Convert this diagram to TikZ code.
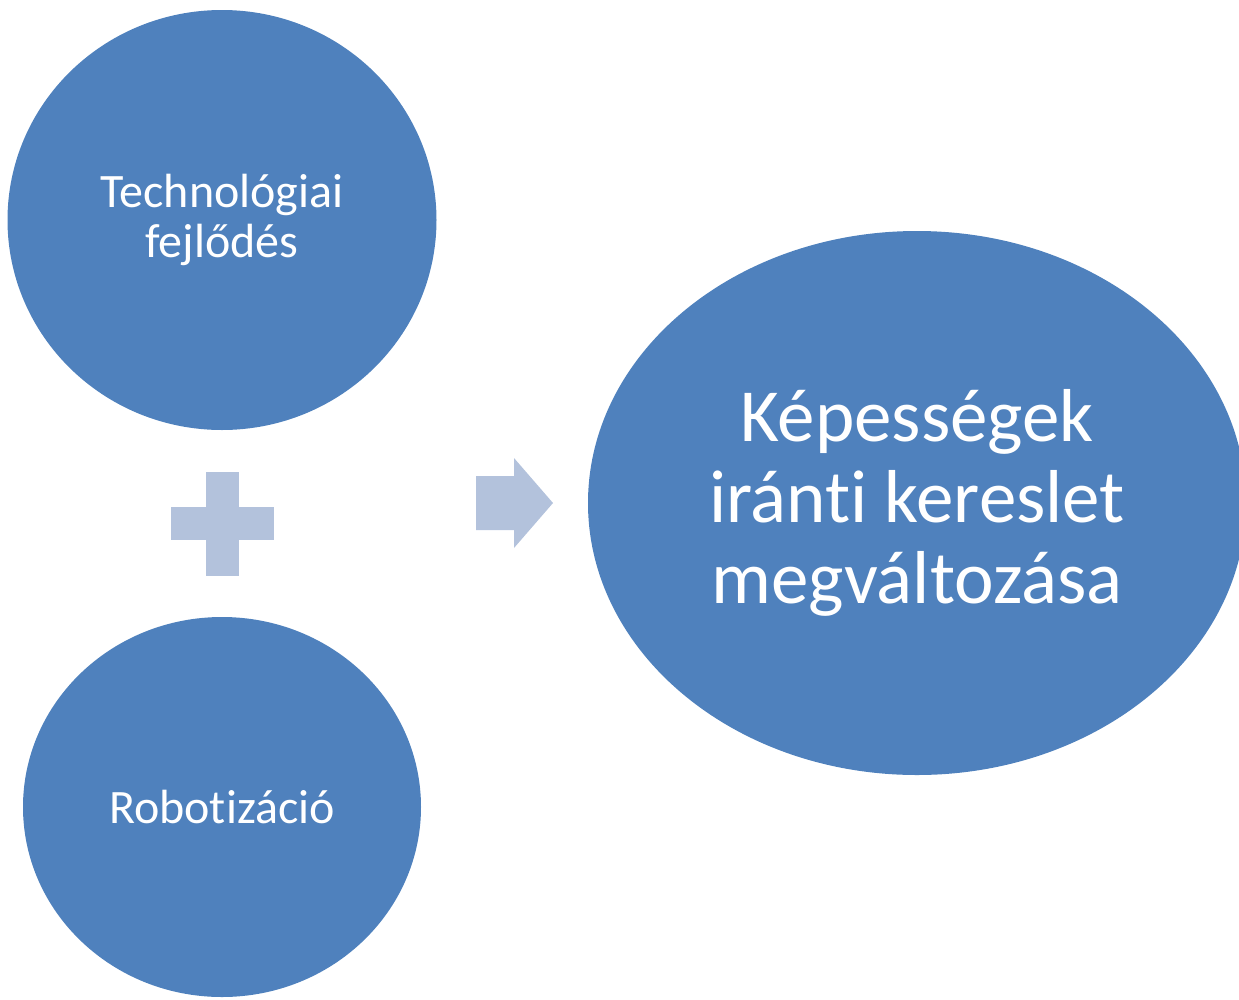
\documentclass[tikz,border=0pt]{standalone}
\usepackage{fontspec}
\setmainfont{Carlito}[Ligatures={NoCommon}]
\usetikzlibrary{shapes.geometric, positioning}
\definecolor{blobblue}{HTML}{4F81BD}
\definecolor{signblue}{HTML}{B3C2DC}
\tikzset{
	blob/.style={
		ellipse,
		fill=blobblue,
		draw=none,
		text=white,
		align=center,
		inner sep=0pt,
		outer sep=0pt
	},
	small blob/.style={
		blob,
		font=\fontsize{48}{50}\selectfont
	},
	big blob/.style={
		blob,
		font=\fontsize{75}{81}\selectfont
	},
	sign/.style={fill=signblue, draw=none}
}

\begin{document}
\begin{tikzpicture}[x=1pt, y=-1pt]
	\useasboundingbox (0,0) rectangle (1239,999);
	\node[small blob, minimum width=429pt, minimum height=420pt] (tech) at (222,220) {Technológiai\\fejlődés};
	\node[small blob, minimum width=398pt, minimum height=380pt] (robot) at (222,807) {Robotizáció};
	\node[big blob, minimum width=658pt, minimum height=544pt] (skills) at (917,503) {Képességek\\iránti kereslet\\megváltozása};
	
	\coordinate (plus) at (222.5,523.5);
	\coordinate (arrow) at (476,503);
	
	% plus between the two circles
	\fill[sign] ([xshift=-51.5pt, yshift=-16.5pt]plus) rectangle ([xshift=51.5pt, yshift=16.5pt]plus);
	\fill[sign] ([xshift=-16.5pt, yshift=-52pt]plus) rectangle ([xshift=16.5pt, yshift=52pt]plus);
	
	% arrow towards the result
	\fill[sign] (arrow) ++(0,-27) -- ++(38,0) -- ++(0,-18) -- ++(39,45)
		-- ++(-39,45) -- ++(0,-18) -- ++(-38,0) -- cycle;
\end{tikzpicture}
\end{document}
